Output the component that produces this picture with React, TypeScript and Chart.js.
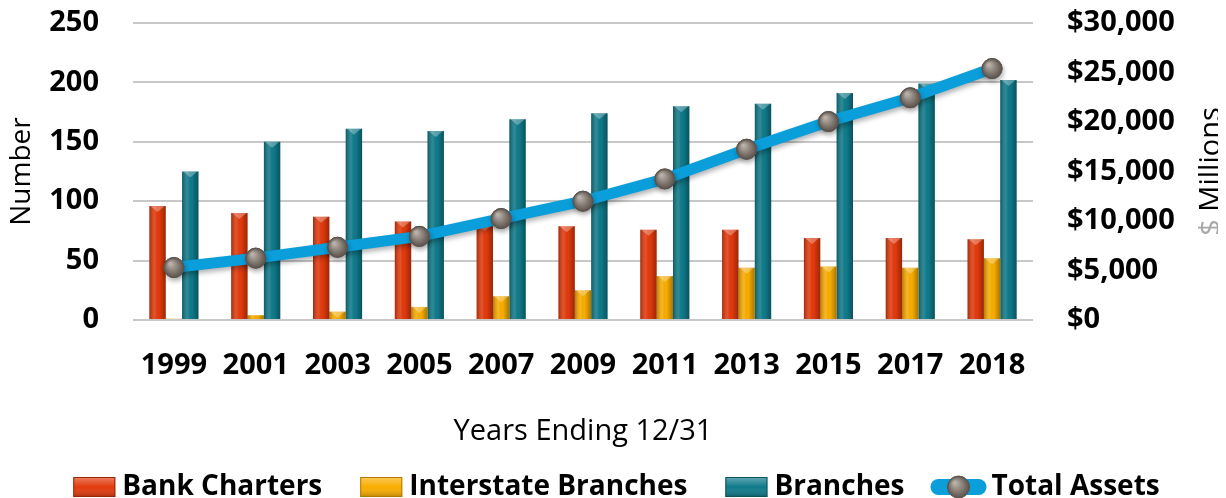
import React, { useEffect, useRef } from "react";
import { Chart, registerables } from "chart.js";

Chart.register(...registerables);

const categories = ["1999", "2001", "2003", "2005", "2007", "2009", "2011", "2013", "2015", "2017", "2018"];
const bankCharters = [96, 90, 87, 83, 80, 79, 76, 76, 69, 69, 68];
const interstateBranches = [1, 4, 7, 11, 20, 25, 37, 44, 45, 44, 52];
const branches = [125, 150, 161, 159, 169, 174, 180, 182, 191, 199, 202];
const totalAssets = [5300, 6250, 7350, 8450, 10250, 12000, 14250, 17250, 20050, 22450, 25400];
const legendNames = ["Bank Charters", "Interstate Branches", "Branches", "Total Assets"];

const RED = "#e23a0c";
const YELLOW = "#f9ad00";
const TEAL = "#0f7a8a";
const BLUE = "#0a9edb";
const GREY = "#847b74";
const FONT = "'Open Sans', sans-serif";
const LEGEND_COLS = [RED, YELLOW, TEAL, BLUE];
const LEGEND_STROKES = ["#9c2606", "#b07800", "#0a5560", BLUE];

function drawBall(ctx: any, x: number, y: number, r: number) {
  const g = ctx.createRadialGradient(x - r * 0.35, y - r * 0.4, r * 0.1, x, y, r);
  g.addColorStop(0, "#b9b2ab");
  g.addColorStop(0.55, "#857c74");
  g.addColorStop(1, "#5a524b");
  ctx.beginPath();
  ctx.arc(x, y, r, 0, Math.PI * 2);
  ctx.fillStyle = g;
  ctx.fill();
  ctx.lineWidth = 1;
  ctx.strokeStyle = "#5a524b";
  ctx.stroke();
}

const barShade = {
  id: "barShade",
  beforeDatasetDraw(chart: any, args: any) {
    if (args.meta.type !== "line") return;
    const ctx = chart.ctx;
    ctx.save();
    ctx.shadowColor = "rgba(0,0,0,0.3)";
    ctx.shadowBlur = 5;
    ctx.shadowOffsetX = 1;
    ctx.shadowOffsetY = 3;
  },
  afterDatasetDraw(chart: any, args: any) {
    const meta = args.meta;
    const ctx = chart.ctx;
    if (meta.type === "line") {
      ctx.restore();
      ctx.save();
      meta.data.forEach((pt: any) => {
        const p = pt.getProps(["x", "y"], true);
        drawBall(ctx, p.x, p.y, 10);
      });
      ctx.restore();
      return;
    }
    if (meta.type !== "bar") return;
    ctx.save();
    meta.data.forEach((el: any) => {
      const p = el.getProps(["x", "y", "base", "width"], true);
      const l = p.x - p.width / 2;
      const top = Math.min(p.y, p.base);
      const h = Math.abs(p.base - p.y);
      const g = ctx.createLinearGradient(l, 0, l + p.width, 0);
      g.addColorStop(0, "rgba(0,0,0,0.28)");
      g.addColorStop(0.35, "rgba(255,255,255,0.12)");
      g.addColorStop(0.6, "rgba(0,0,0,0)");
      g.addColorStop(1, "rgba(0,0,0,0.32)");
      ctx.fillStyle = g;
      ctx.fillRect(l, top, p.width, h);
      if (h > 6) {
        ctx.fillStyle = "rgba(255,255,255,0.3)";
        ctx.beginPath();
        ctx.moveTo(l + 1, top);
        ctx.lineTo(l + p.width - 1, top);
        ctx.lineTo(p.x, top + Math.min(6, h));
        ctx.closePath();
        ctx.fill();
      }
    });
    ctx.restore();
  },
};

const extras = {
  id: "extras",
  afterDraw(chart: any) {
    const ctx = chart.ctx;
    const area = chart.chartArea;
    ctx.save();
    ctx.font = "29px " + FONT;
    const a = "$ ";
    const b = "Millions";
    const wa = ctx.measureText(a).width;
    const wb = ctx.measureText(b).width;
    const cx = chart.width - 6;
    const cy = (area.top + area.bottom) / 2;
    ctx.translate(cx, cy);
    ctx.rotate(-Math.PI / 2);
    ctx.textBaseline = "middle";
    ctx.textAlign = "left";
    const start = -(wa + wb) / 2;
    ctx.fillStyle = "#a8a8a8";
    ctx.fillText(a, start, 0);
    ctx.fillStyle = "#000";
    ctx.fillText(b, start + wa, 0);
    ctx.restore();

    const lg = chart.legend;
    if (!lg || !lg.legendHitBoxes) return;
    const bw = lg.options.labels.boxWidth;
    const fs = lg.options.labels.font.size;
    lg.legendHitBoxes.forEach((hb: any, i: number) => {
      const textX = hb.left + bw + fs / 2;
      const cyL = hb.top + hb.height / 2;
      ctx.save();
      if (i < 3) {
        const x0 = textX - 7 - 42;
        const y0 = cyL - 10;
        const g = ctx.createLinearGradient(0, y0, 0, y0 + 20);
        g.addColorStop(0, "rgba(255,255,255,0.35)");
        g.addColorStop(0.5, "rgba(255,255,255,0)");
        g.addColorStop(1, "rgba(0,0,0,0.25)");
        ctx.fillStyle = LEGEND_COLS[i];
        ctx.fillRect(x0, y0, 42, 20);
        ctx.fillStyle = g;
        ctx.fillRect(x0, y0, 42, 20);
        ctx.lineWidth = 1;
        ctx.strokeStyle = LEGEND_STROKES[i];
        ctx.strokeRect(x0 + 0.5, y0 + 0.5, 41, 19);
      } else {
        const x0 = textX - 5 - 56;
        const y0 = cyL - 8;
        ctx.fillStyle = BLUE;
        ctx.beginPath();
        ctx.moveTo(x0 + 8, y0);
        ctx.lineTo(x0 + 48, y0);
        ctx.arc(x0 + 48, y0 + 8, 8, -Math.PI / 2, Math.PI / 2);
        ctx.lineTo(x0 + 8, y0 + 16);
        ctx.arc(x0 + 8, y0 + 8, 8, Math.PI / 2, Math.PI * 1.5);
        ctx.closePath();
        ctx.fill();
        drawBall(ctx, x0 + 28, cyL, 11);
      }
      ctx.restore();
    });
  },
};

export default function App() {
  const ref = useRef<HTMLCanvasElement | null>(null);
  useEffect(() => {
    if (!ref.current) return;
    Chart.defaults.font.family = FONT;
    Chart.defaults.color = "#000";
    const chart = new Chart(ref.current, {
      type: "bar",
      data: {
        labels: categories,
        datasets: [
          {
            type: "line",
            label: legendNames[3],
            data: totalAssets,
            yAxisID: "y1",
            borderColor: BLUE,
            backgroundColor: BLUE,
            borderWidth: 11,
            pointRadius: 10,
            pointBackgroundColor: GREY,
            pointBorderColor: "#5d5650",
            pointBorderWidth: 1,
            tension: 0,
            order: 0,
          } as any,
          { label: legendNames[0], data: bankCharters, backgroundColor: RED, yAxisID: "y", order: 1 },
          { label: legendNames[1], data: interstateBranches, backgroundColor: YELLOW, yAxisID: "y", order: 1 },
          { label: legendNames[2], data: branches, backgroundColor: TEAL, yAxisID: "y", order: 1 },
        ],
      },
      options: {
        animation: false,
        responsive: true,
        maintainAspectRatio: false,
        datasets: { bar: { barPercentage: 1, categoryPercentage: 0.6 } },
        layout: { padding: { top: 15, right: 0, left: 0, bottom: -13 } },
        plugins: {
          tooltip: { enabled: false },
          legend: {
            position: "bottom",
            labels: {
              boxWidth: 42,
              boxHeight: 20,
              padding: 31,
              color: "#000",
              font: { size: 28, weight: "bold", family: FONT },
              generateLabels: () =>
                legendNames.map((n, i) => ({
                  text: n,
                  fillStyle: "rgba(0,0,0,0)",
                  strokeStyle: "rgba(0,0,0,0)",
                  lineWidth: 0,
                  hidden: false,
                  datasetIndex: i,
                })) as any,
            },
          },
        },
        scales: {
          x: {
            grid: { display: false },
            border: { display: false },
            ticks: { font: { size: 29, weight: "bold" }, color: "#000", padding: 20, maxRotation: 0 },
            title: {
              display: true,
              text: "Years Ending 12/31",
              font: { size: 29 },
              color: "#000",
              padding: { top: 0, bottom: -7 },
            },
            afterFit: (s: any) => {
              s.height = 122;
            },
          },
          y: {
            position: "left",
            min: 0,
            max: 250,
            ticks: { stepSize: 50, font: { size: 29, weight: "bold" }, color: "#000", padding: 34 },
            grid: { color: "#c8c8c8", lineWidth: 2, drawTicks: false },
            border: { display: false },
            title: {
              display: true,
              text: "Number",
              font: { size: 28 },
              color: "#000",
              padding: { top: -3, bottom: 0 },
            },
            afterFit: (s: any) => {
              s.width = 125;
              s.paddingTop = 0;
              s.paddingBottom = 0;
            },
          },
          y1: {
            position: "right",
            min: 0,
            max: 30000,
            ticks: {
              stepSize: 5000,
              font: { size: 29, weight: "bold" },
              color: "#000",
              padding: 34,
              callback: (v: any) => "$" + Number(v).toLocaleString("en-US"),
            },
            grid: { display: false, drawTicks: false },
            border: { display: false },
            afterFit: (s: any) => {
              s.width = 185;
              s.paddingTop = 0;
              s.paddingBottom = 0;
            },
          },
        },
      },
      plugins: [barShade, extras],
    });
    return () => chart.destroy();
  }, []);
  return (
    <div style={{ position: "relative", width: 1210, height: 490 }}>
      <canvas ref={ref} />
    </div>
  );
}
